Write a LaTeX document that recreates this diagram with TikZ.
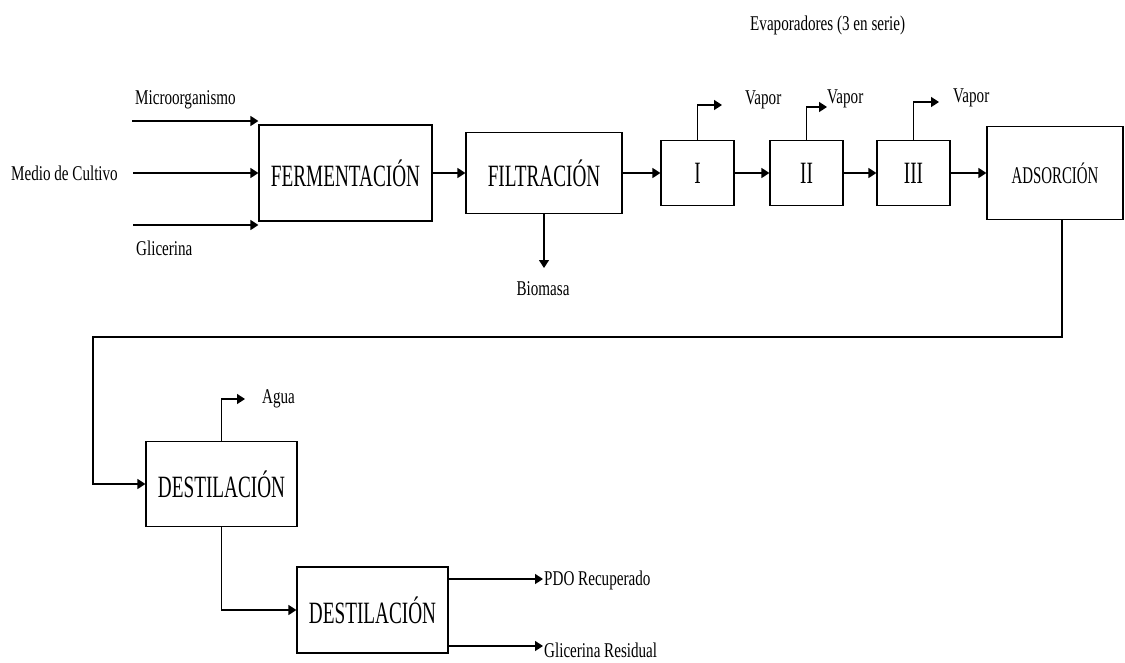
\documentclass[tikz,border=0pt]{standalone}
\usepackage{fontspec}
\setmainfont{Liberation Serif}
\newfontfamily\bxfont[FakeStretch=0.62]{Liberation Serif}
\newfontfamily\lbfont[FakeStretch=0.72]{Liberation Serif}
\usetikzlibrary{arrows.meta}
\tikzset{
  box/.style={draw, line width=1.2pt, inner sep=0pt, font=\bxfont\fontsize{31}{34}\selectfont},
  lbl/.style={inner sep=0pt, font=\lbfont\fontsize{21}{24}\selectfont},
  arr/.style={line width=1.5pt, -{Triangle[length=8pt,width=10pt]}},
  ln/.style={line width=1.5pt}
}
\begin{document}
\begin{tikzpicture}[x=1pt,y=-1pt]
\useasboundingbox (0,0) rectangle (1125,662);
% boxes
\node[box, minimum width=173pt, minimum height=96pt] (ferm) at (345.5,173) {FERMENTACIÓN};
\node[box, minimum width=156pt, minimum height=81pt] (filt) at (544,173) {FILTRACIÓN};
\node[box, minimum width=73pt, minimum height=65pt] (ev1) at (697.5,173) {I};
\node[box, minimum width=73pt, minimum height=65pt] (ev2) at (806.5,173) {II};
\node[box, minimum width=73pt, minimum height=65pt] (ev3) at (913.5,173) {III};
\node[box, minimum width=136pt, minimum height=93pt, font=\bxfont\fontsize{24}{28}\selectfont] (ads) at (1055,173) {ADSORCIÓN};
\node[box, minimum width=151pt, minimum height=85pt] (dest1) at (221.5,484) {DESTILACIÓN};
\node[box, minimum width=151pt, minimum height=86pt] (dest2) at (372.5,610) {DESTILACIÓN};
% coordinates
\coordinate (mi) at (132,121);
\coordinate (md) at (133,173);
\coordinate (gl) at (133,225);
\coordinate (bio) at (544,268);
\coordinate (v1) at (722,105);
\coordinate (v2) at (827,107);
\coordinate (v3) at (939,102);
\coordinate (c0) at (1062,219);
\coordinate (c1) at (1062,337);
\coordinate (c2) at (93,337);
\coordinate (ag) at (245,399);
\coordinate (pdo) at (543,579);
\coordinate (gr) at (543,646);
% labels
\node[lbl, anchor=west] (tmi) at (135,100) {Microorganismo};
\node[lbl, anchor=east] (tmd) at (118,173) {Medio de Cultivo};
\node[lbl, anchor=west] (tgl) at (136,248) {Glicerina};
\node[lbl] (tbio) at (543,289) {Biomasa};
\node[lbl, anchor=west] (tv1) at (745,100) {Vapor};
\node[lbl, anchor=west] (tv2) at (827,99) {Vapor};
\node[lbl, anchor=west] (tv3) at (953,98) {Vapor};
\node[lbl, anchor=west] (tev) at (750,25) {Evaporadores (3 en serie)};
\node[lbl, anchor=west] (tag) at (262,399) {Agua};
\node[lbl, anchor=west] (tpdo) at (544,580) {PDO Recuperado};
\node[lbl, anchor=west] (tgr) at (544,650) {Glicerina Residual};
% inputs
\draw[arr] (mi) -- (mi -| ferm.west);
\draw[arr] (md) -- (ferm.west);
\draw[arr] (gl) -- (gl -| ferm.west);
% main row
\draw[arr] (ferm.east) -- (filt.west);
\draw[arr] (filt.east) -- (ev1.west);
\draw[arr] (ev1.east) -- (ev2.west);
\draw[arr] (ev2.east) -- (ev3.west);
\draw[arr] (ev3.east) -- (ads.west);
% side streams
\draw[line width=1.2pt, -{Triangle[length=8pt,width=10pt]}] (filt.south) -- (bio);
\draw[arr] (ev1.north) |- (v1);
\draw[arr] (ev2.north) |- (v2);
\draw[arr] (ev3.north) |- (v3);
% to distillation
\draw[arr] (c0) -- (c1) -- (c2) |- (dest1.west);
\draw[arr] (dest1.north) |- (ag);
\draw[arr] (dest1.south) |- (dest2.west);
\draw[arr] (pdo -| dest2.east) -- (pdo);
\draw[arr] (gr -| dest2.east) -- (gr);
\end{tikzpicture}
\end{document}
